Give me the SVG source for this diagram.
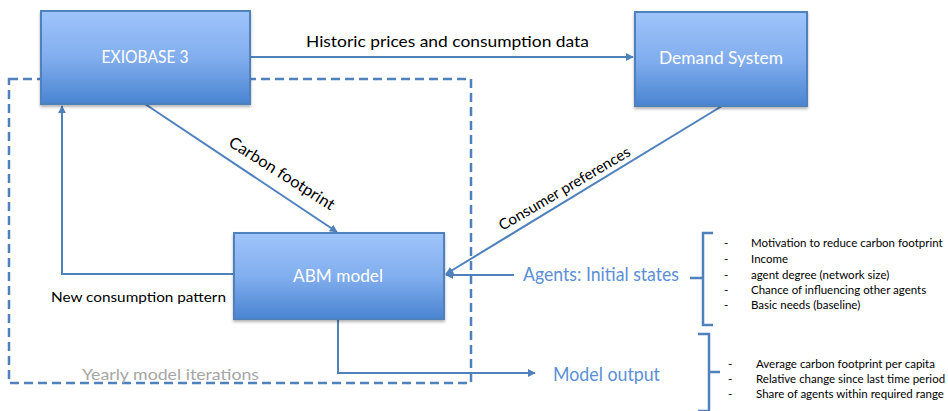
<svg xmlns="http://www.w3.org/2000/svg" width="948" height="411" viewBox="0 0 948 411">
<defs>
<linearGradient id="boxg" x1="0" y1="0" x2="0" y2="1">
<stop offset="0" stop-color="#9fc4fb"/>
<stop offset="0.5" stop-color="#82aeee"/>
<stop offset="1" stop-color="#4a84d2"/>
</linearGradient>
<filter id="sh" x="-10%" y="-10%" width="120%" height="130%">
<feDropShadow dx="0" dy="2" stdDeviation="1.5" flood-color="#000" flood-opacity="0.3"/>
</filter>
<marker id="arr" viewBox="0 0 10 10" refX="9" refY="5" markerWidth="4" markerHeight="4" orient="auto" markerUnits="strokeWidth">
<path d="M0,0 L10,5 L0,10 z" fill="#4f81bd"/>
</marker>
<style>
.box{fill:url(#boxg);stroke:#4f81bd;stroke-width:2;filter:url(#sh)}
.bt{font-family:Lato,"Liberation Sans",sans-serif;font-size:17px;fill:#fff;text-anchor:middle}
.c{fill:none;stroke:#4f81bd;stroke-width:2}
.lbl{font-family:Lato,"Liberation Sans",sans-serif;font-size:16px;fill:#000}
.blue{font-family:Lato,"Liberation Sans",sans-serif;font-size:19px;fill:#5b8fd6}
.li{font-family:Lato,"Liberation Sans",sans-serif;font-size:11.5px;fill:#000}
</style>
</defs>
<rect width="948" height="411" fill="#fff"/>
<g id="yearly-iterations">
<rect x="9" y="79" width="462" height="304" fill="none" stroke="#4f81bd" stroke-width="2.5" stroke-dasharray="9,5"/>
<text x="82" y="380" font-family="Lato,'Liberation Sans',sans-serif" font-size="16" fill="#a6a6a6" textLength="177" lengthAdjust="spacingAndGlyphs">Yearly model iterations</text>
</g>
<g id="connectors">
<path class="c" d="M250,57 H633" marker-end="url(#arr)"/>
<path class="c" d="M145,104 L337,232" marker-end="url(#arr)"/>
<path class="c" d="M722,106 L446,274" marker-end="url(#arr)"/>
<path class="c" d="M514,275 H446" marker-end="url(#arr)"/>
<path class="c" d="M234,274 H62 V106" marker-end="url(#arr)"/>
<path class="c" d="M338,319 V373 H535" marker-end="url(#arr)"/>
<text class="lbl" x="306" y="47" textLength="283" lengthAdjust="spacingAndGlyphs">Historic prices and consumption data</text>
<text class="lbl" transform="translate(279,178) rotate(32.5)" text-anchor="middle" textLength="122" lengthAdjust="spacingAndGlyphs">Carbon footprint</text>
<text class="lbl" transform="translate(567,193) rotate(-30.5)" text-anchor="middle" style="font-size:15px" textLength="150" lengthAdjust="spacingAndGlyphs">Consumer preferences</text>
<text class="lbl" x="51" y="302" style="font-size:14px" textLength="175" lengthAdjust="spacingAndGlyphs">New consumption pattern</text>
</g>
<g id="exiobase">
<rect class="box" x="41" y="11" width="209" height="93"/>
<text class="bt" x="145" y="63" textLength="87" lengthAdjust="spacingAndGlyphs">EXIOBASE 3</text>
</g>
<g id="demand-system">
<rect class="box" x="635" y="12" width="172" height="94"/>
<text class="bt" x="721" y="64" textLength="124" lengthAdjust="spacingAndGlyphs">Demand System</text>
</g>
<g id="abm-model">
<rect class="box" x="234" y="233" width="210" height="86"/>
<text class="bt" x="338" y="282" textLength="90" lengthAdjust="spacingAndGlyphs">ABM model</text>
</g>
<g id="agents">
<text class="blue" x="523" y="281" textLength="156" lengthAdjust="spacingAndGlyphs">Agents: Initial states</text>
<path d="M713,233 H703 V278 H690 M703,278 V325 H713" fill="none" stroke="#4f81bd" stroke-width="2.5"/>
<g class="li">
<text x="724" y="247">-</text><text x="751" y="247">Motivation to reduce carbon footprint</text>
<text x="724" y="263">-</text><text x="751" y="263">Income</text>
<text x="724" y="279">-</text><text x="751" y="279">agent degree (network size)</text>
<text x="724" y="294">-</text><text x="751" y="294">Chance of influencing other agents</text>
<text x="724" y="309">-</text><text x="751" y="309">Basic needs (baseline)</text>
</g>
</g>
<g id="model-output">
<text class="blue" x="553" y="381" textLength="107" lengthAdjust="spacingAndGlyphs">Model output</text>
<path d="M698,334 H709 V372 H720 M709,372 V411 H698" fill="none" stroke="#4f81bd" stroke-width="2.5"/>
<g class="li">
<text x="728" y="368">-</text><text x="756" y="368">Average carbon footprint per capita</text>
<text x="728" y="383">-</text><text x="756" y="383">Relative change since last time period</text>
<text x="728" y="398">-</text><text x="756" y="398">Share of agents within required range</text>
</g>
</g>
</svg>
